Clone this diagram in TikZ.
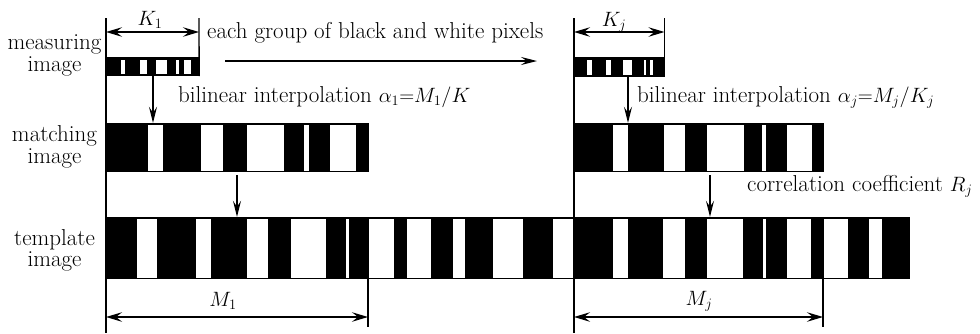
\documentclass[tikz,border=0pt]{standalone}
\usetikzlibrary{arrows.meta,fit}

% white stripes inside a black bar: top y, bottom y, list of x-intervals
\newcommand\barstripes[3]{%
  \foreach \sa/\sb in {#3} {\fill[white] (\sa,#1) rectangle (\sb,#2);}}

\begin{document}
\begin{tikzpicture}[x=1pt,y=-1pt,
  txt/.style={font=\fontsize{23}{23}\selectfont, inner sep=0pt},
  mathlbl/.style={font=\fontsize{20.74}{21}\selectfont, inner sep=0pt},
  bar/.style={fill=black, draw=none, inner sep=0pt},
  guide/.style={line width=1.3pt},
  dimline/.style={line width=1.3pt,
    {Stealth[length=16pt,width=9.5pt,inset=6pt]}-{Stealth[length=16pt,width=9.5pt,inset=6pt]}},
  flow/.style={line width=1.3pt, -{Stealth[length=16pt,width=8pt,inset=6pt]}},
]
\useasboundingbox (0,0) rectangle (980,333);

% ---------- bars ----------
\node[bar, fit={(106,57)(199,76)}] (meas1) {};
\barstripes{60}{73.5}{121/125,140/147,156/167,176/179,184/191}
\node[bar, fit={(574,57)(665,77)}] (measJ) {};
\barstripes{60}{74.5}{587/592,606/611,623/632,644/646,650/653}
\node[bar, fit={(106,123)(369,172)}] (match1) {};
\barstripes{124.5}{170.5}{148/163,201/223,247/284,304/309,330/356}
\node[bar, fit={(574,123)(824,172)}] (matchJ) {};
\barstripes{124.5}{170.5}{613/628,664/685,707/744,762/766,787/812}
\node[bar, fit={(106,217)(910,279)}] (templ) {};
\barstripes{218.5}{278}{137/157,196/211,247/268,291/326,346/349,369/394,407/431,453/465,493/523,553/573,613/628,663/685,707/743,763/766,787/811,824/848,869/882}

% ---------- guide lines ----------
\coordinate (gLtop) at (106,18);  \coordinate (gLbot) at (106,333);
\coordinate (gRtop) at (574,18);  \coordinate (gRbot) at (574,333);
\draw[guide] (gLtop) -- (gLbot);
\draw[guide] (gRtop) -- (gRbot);
\coordinate (k1top) at (199,18);   \draw[guide] (k1top) -- (meas1.south east);
\coordinate (kjtop) at (664.5,18); \coordinate (kjbot) at (664.5,77);
\draw[guide] (kjtop) -- (kjbot);
\coordinate (m1top) at (368,279);  \coordinate (m1bot) at (368,327);
\draw[guide] (m1top) -- (m1bot);
\coordinate (mjtop) at (823,279);  \coordinate (mjbot) at (823,327);
\draw[guide] (mjtop) -- (mjbot);

% ---------- dimension arrows ----------
\coordinate (k1L) at (106,32);  \coordinate (k1R) at (199,32);
\draw[dimline] (k1L) -- (k1R);
\coordinate (kjL) at (574,32);  \coordinate (kjR) at (664.5,32);
\draw[dimline] (kjL) -- (kjR);
\coordinate (m1L) at (106,317); \coordinate (m1R) at (368,317);
\draw[dimline] (m1L) -- (m1R);
\coordinate (mjL) at (574,317); \coordinate (mjR) at (823,317);
\draw[dimline] (mjL) -- (mjR);

\node[mathlbl, anchor=base] (k1lab) at (150,25) {$K_1$};
\node[mathlbl, anchor=base] (kjlab) at (614,26) {$K_j$};
\node[mathlbl, anchor=base] (m1lab) at (223,306) {$M_1$};
\node[mathlbl, anchor=base] (mjlab) at (699,305) {$M_j$};

% ---------- flow arrows ----------
\coordinate (xa) at (153,0);
\coordinate (xb) at (628,0);
\coordinate (xc) at (237,0);
\coordinate (xd) at (710,0);
\draw[flow] (meas1.south -| xa) -- (match1.north -| xa);
\draw[flow] (measJ.south -| xb) -- (matchJ.north -| xb);
\draw[flow, shorten <=3pt] (match1.south -| xc) -- (templ.north -| xc);
\draw[flow, shorten <=3pt] (matchJ.south -| xd) -- (templ.north -| xd);
\coordinate (grpA) at (225,61); \coordinate (grpB) at (537,61);
\draw[flow] (grpA) -- (grpB);

% ---------- texts ----------
\node[txt, anchor=base] (measA) at (54.5,49.5) {measuring};
\node[txt, anchor=base] (measB) at (54.5,71) {image};
\node[txt, anchor=base] (matchA) at (54.5,141.5) {matching};
\node[txt, anchor=base] (matchB) at (54.5,163) {image};
\node[txt, anchor=base] (templA) at (54.5,245) {template};
\node[txt, anchor=base] (templB) at (54.5,266.5) {image};

\node[txt, anchor=base west] (grp) at (207,38) {each group of black and white pixels};
\node[txt, anchor=base west] (bil1) at (178,102)
  {bilinear interpolation {\fontsize{20.74}{21}\selectfont$\alpha_1$=$M_1/K$}};
\node[txt, anchor=base west] (bilj) at (637,102)
  {bilinear interpolation {\fontsize{20.74}{21}\selectfont$\alpha_j$=$M_j/K_j$}};
\node[txt, anchor=base west] (corr) at (747,191)
  {correlation coefficient {\fontsize{20.74}{21}\selectfont$R_j$}};
\end{tikzpicture}
\end{document}
